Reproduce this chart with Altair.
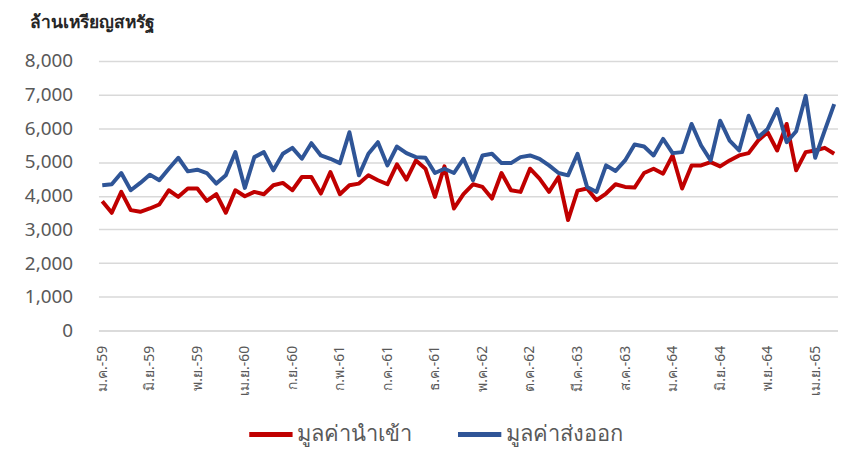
import altair as alt
import pandas as pd

months_th = ["ม.ค.", "ก.พ.", "มี.ค.", "เม.ย.", "พ.ค.", "มิ.ย.",
             "ก.ค.", "ส.ค.", "ก.ย.", "ต.ค.", "พ.ย.", "ธ.ค."]
years_be = ["59", "60", "61", "62", "63", "64", "65"]
n_months = 78
periods = [f"{months_th[i % 12]}-{years_be[i // 12]}" for i in range(n_months)]

imports = [3838, 3493, 4113, 3572, 3523, 3621, 3739, 4162, 3966, 4212,
           4212, 3847, 4044, 3493, 4162, 3985, 4113, 4044, 4310, 4379,
           4162, 4556, 4556, 4064, 4704, 4044, 4310, 4359, 4605, 4458,
           4339, 4930, 4477, 5048, 4802, 3966, 4871, 3621, 4044, 4339,
           4261, 3916, 4674, 4162, 4113, 4802, 4507, 4113, 4556, 3277,
           4150, 4212, 3867, 4064, 4339, 4261, 4241, 4674, 4802, 4654,
           5196, 4212, 4900, 4900, 4999, 4871, 5048, 5196, 5264, 5638,
           5884, 5343, 6130, 4753, 5294, 5343, 5422, 5245]

exports = [4310, 4340, 4674, 4162, 4379, 4625, 4458, 4802, 5127, 4723,
           4772, 4674, 4359, 4605, 5294, 4231, 5146, 5294, 4753, 5245,
           5422, 5097, 5560, 5196, 5097, 4969, 5884, 4605, 5245, 5589,
           4900, 5461, 5264, 5146, 5127, 4674, 4802, 4674, 5097, 4458,
           5196, 5245, 4969, 4969, 5146, 5196, 5097, 4900, 4674, 4605,
           5245, 4261, 4113, 4900, 4733, 5048, 5520, 5461, 5196, 5688,
           5264, 5294, 6130, 5491, 5048, 6229, 5638, 5343, 6376, 5737,
           5983, 6573, 5589, 5914, 6967, 5127, 5934, 6721]

series_names = ["มูลค่านำเข้า", "มูลค่าส่งออก"]
series_colors = ["#C00000", "#2F5597"]
y_ticks = [0, 1000, 2000, 3000, 4000, 5000, 6000, 7000, 8000]
x_ticks = periods[::5]
unit_title = "ล้านเหรียญสหรัฐ"

df = pd.DataFrame({
    "period": periods * 2,
    "value": imports + exports,
    "series": [series_names[0]] * n_months + [series_names[1]] * n_months,
})

FONT = "Noto Sans"

chart = alt.Chart(df).mark_line(strokeWidth=4, strokeJoin="round").encode(
    x=alt.X("period:N", sort=periods,
            scale=alt.Scale(type="point", padding=0.4),
            axis=alt.Axis(values=x_ticks, title=None, labelAngle=270,
                          labelFontSize=14, labelColor="#595959",
                          labelPadding=15, ticks=False, grid=False,
                          domainColor="#D9D9D9", domainWidth=1.5,
                          labelFont=FONT)),
    y=alt.Y("value:Q", scale=alt.Scale(domain=[0, 8000], nice=False),
            axis=alt.Axis(values=y_ticks, format=",.0f", title=None,
                          labelFontSize=19, labelColor="#595959",
                          labelPadding=26, ticks=False, domain=False,
                          gridColor="#D9D9D9", gridWidth=1.5,
                          labelFont=FONT)),
    color=alt.Color("series:N",
                    scale=alt.Scale(domain=series_names, range=series_colors),
                    legend=alt.Legend(orient="none", legendX=149, legendY=351,
                                      direction="horizontal", title=None,
                                      symbolType="stroke", symbolStrokeWidth=5,
                                      symbolSize=1900, labelFontSize=22,
                                      labelColor="#595959", columnPadding=34,
                                      labelOffset=2, labelFont=FONT)),
).properties(
    width=744,
    height=271,
    title=alt.TitleParams(unit_title, anchor="start", frame="group", dx=-69,
                          fontSize=17.5, fontWeight="bold", color="#262626",
                          offset=21, font=FONT),
    padding={"left": 91, "top": 52, "right": 0, "bottom": 120},
    autosize=alt.AutoSizeParams(type="none"),
).configure_view(stroke=None)

chart.save("out.html", embed_options={"renderer": "svg", "actions": False})
